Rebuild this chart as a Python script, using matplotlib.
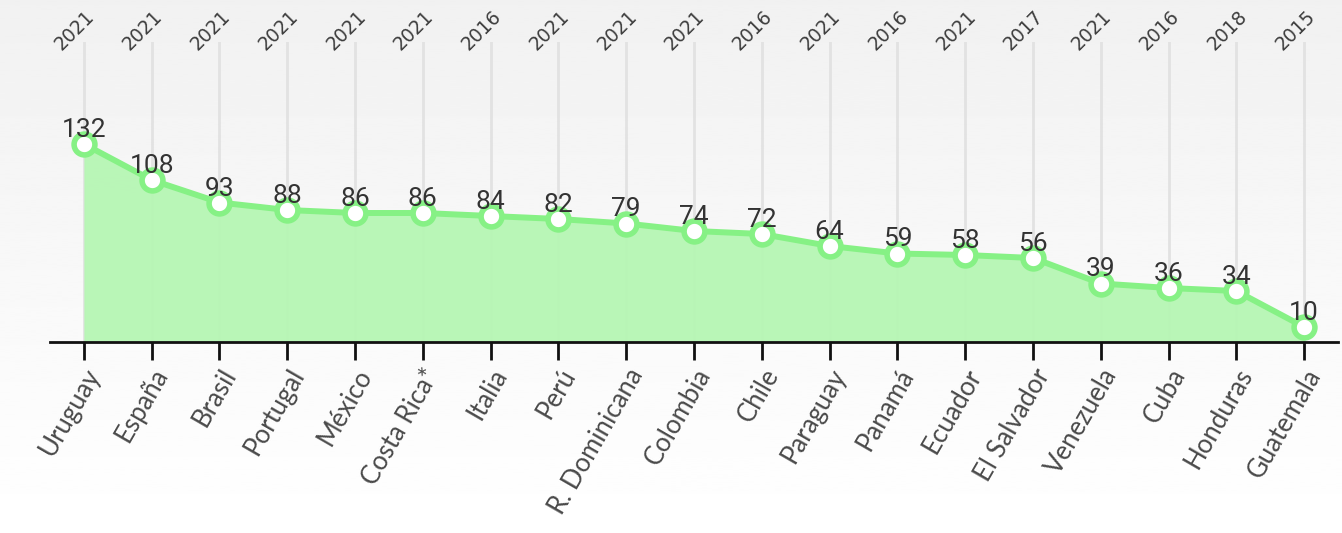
import matplotlib as mpl
mpl.use("Agg")
import matplotlib.pyplot as plt
import numpy as np

# values
countries = ["Uruguay", "España", "Brasil", "Portugal", "México", "Costa Rica*",
             "Italia", "Perú", "R. Dominicana", "Colombia", "Chile", "Paraguay",
             "Panamá", "Ecuador", "El Salvador", "Venezuela", "Cuba", "Honduras",
             "Guatemala"]
values = [132, 108, 93, 88, 86, 86, 84, 82, 79, 74, 72, 64, 59, 58, 56, 39, 36, 34, 10]
years = ["2021", "2021", "2021", "2021", "2021", "2021", "2016", "2021", "2021",
         "2021", "2016", "2021", "2016", "2021", "2017", "2021", "2016", "2018", "2015"]

line_col = "#86f185"
fill_col = "#b6f6b4"

fig = plt.figure(figsize=(13.42, 5.33), dpi=100)

# soft grey-to-white background
bg = fig.add_axes([0, 0, 1, 1], zorder=-10)
grad = np.linspace(0.945, 1.0, 256).reshape(-1, 1)
bg.imshow(grad, cmap="gray", vmin=0, vmax=1, aspect="auto",
          extent=[0, 1, 0, 1], origin="upper")
bg.axis("off")

ax = fig.add_axes([50 / 1342, 191 / 533, 1288 / 1342, 300 / 533])
ax.patch.set_alpha(0)
x = np.arange(len(countries))

for xi in x:
    ax.axvline(xi, color="#e2e2e2", lw=2, zorder=0)

ax.fill_between(x, values, 0, color=fill_col, alpha=0.95, lw=0, zorder=1)
ax.plot(x, values, color=line_col, lw=4.3, zorder=2, solid_capstyle="round")
ax.plot(x, values, "o", ms=15, mfc="white", mec=line_col, mew=4, zorder=3)

for xi, v in zip(x, values):
    ax.annotate(str(v), (xi, v), xytext=(0, 2), textcoords="offset pixels",
                ha="center", va="bottom", fontsize=19, color="#333333",
                family="Roboto", zorder=4)

for xi, yr in zip(x, years):
    ax.annotate(yr, (xi, 1.0), xycoords=("data", "axes fraction"),
                xytext=(-9, -12), textcoords="offset pixels", rotation=45,
                ha="center", va="bottom", fontsize=13.5, color="#3d3d3d",
                family="DejaVu Sans")

ax.set_xlim(-0.5, 18.5)
ax.set_ylim(0, 200)
ax.set_yticks([])
for s in ["top", "right", "left"]:
    ax.spines[s].set_visible(False)
ax.spines["bottom"].set_linewidth(2)
ax.spines["bottom"].set_color("#111111")
ax.set_xticks(x)
ax.set_xticklabels(countries, rotation=60, ha="right", va="top",
                   rotation_mode="anchor", fontsize=18.5, color="#4a4a4a",
                   family="Lato")
ax.tick_params(axis="x", length=13, width=2, color="#111111", pad=3)

fig.savefig("out.png", dpi=100)
